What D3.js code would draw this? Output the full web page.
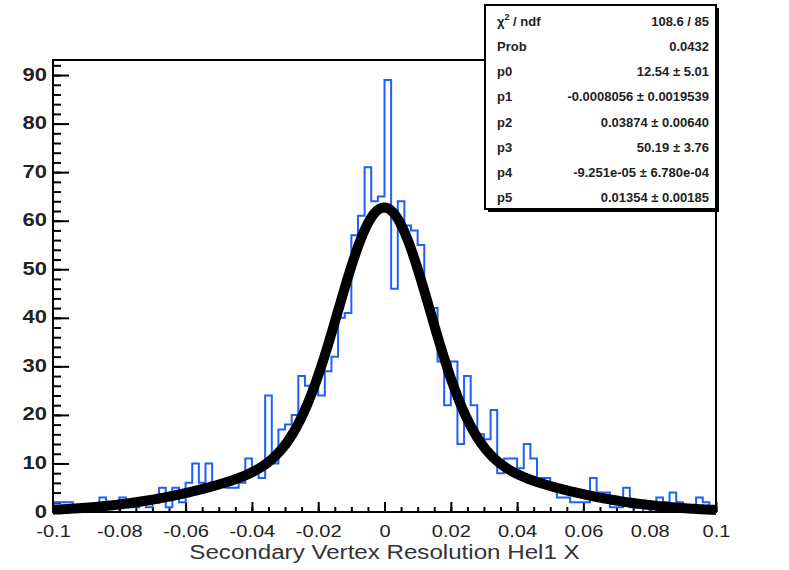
<!DOCTYPE html>
<html>
<head>
<meta charset="utf-8">
<script src="https://cdn.jsdelivr.net/npm/d3@7"></script>
<style>
    body { margin: 0; background: #fff; }
    .axis path { display: none; }
    .axis line { stroke: #000; stroke-width: 2; }
    .axis text { fill: #222; font-family: "Liberation Sans", Arial, sans-serif; }
    .stats text { font-family: "Liberation Sans", Arial, sans-serif; font-weight: bold; font-size: 13px; fill: #222; }
</style>
</head>
<body>
<div class="graph"></div>
<script>
// histogram: 100 bins from -0.1 to 0.1
var binLow = -0.1
var binWidth = 0.002
var binCounts = [
    2, 2, 2, 1, 0, 1, 1, 3, 2, 1,
    3, 1, 1, 2, 1, 2, 5, 1, 5, 2,
    6, 10, 6, 10, 5, 6, 5, 5, 6, 11,
    8, 7, 24, 10, 17, 18, 20, 28, 26, 26,
    24, 29, 32, 40, 41, 57, 61, 71, 64, 65,
    89, 46, 64, 59, 58, 55, 43, 42, 31, 22,
    31, 14, 28, 22, 16, 15, 21, 8, 11, 11,
    9, 14, 11, 7, 7, 5, 3, 3, 2, 2,
    2, 7, 4, 4, 1, 1, 5, 1, 1, 0,
    1, 3, 2, 4, 2, 1, 1, 3, 2, 1
]

// fit: p0*gaus(p1,p2) + p3*gaus(p4,p5)
var fitParams = [12.54, -0.0008056, 0.03874, 50.19, -9.251e-05, 0.01354]

var statNames = ["χ2 / ndf", "Prob", "p0", "p1", "p2", "p3", "p4", "p5"]
var statValues = ["108.6 / 85", "0.0432", "12.54 ± 5.01", "-0.0008056 ± 0.0019539",
    "0.03874 ± 0.00640", "50.19 ± 3.76", "-9.251e-05 ± 6.780e-04", "0.01354 ± 0.00185"]

var xTicks = [-0.1, -0.08, -0.06, -0.04, -0.02, 0, 0.02, 0.04, 0.06, 0.08, 0.1]
var xTickLabels = ["-0.1", "-0.08", "-0.06", "-0.04", "-0.02", "0", "0.02", "0.04", "0.06", "0.08", "0.1"]
var yTicks = [0, 10, 20, 30, 40, 50, 60, 70, 80, 90]
var xTitle = "Secondary Vertex Resolution Hel1 X"

var width = 789, height = 570
var margin = {top: 60, left: 53, right: 73, bottom: 58}
var chartWidth = width - margin.left - margin.right
var chartHeight = height - margin.top - margin.bottom

var svg = d3.select(".graph").append("svg")
    .attr("width", width).attr("height", height)

var x = d3.scaleLinear().domain([-0.1, 0.1]).range([margin.left, margin.left + chartWidth])
var y = d3.scaleLinear().domain([0, 93.1]).range([margin.top + chartHeight, margin.top])

drawAxis()
drawHist()
drawFit()
drawFrame()
drawStats()

function drawAxis() {
    var xMinor = d3.range(-0.1, 0.1001, 0.005)
    var yMinor = d3.range(0, 93, 2)

    svg.append("g").attr("class", "axis")
        .attr("transform", "translate(0," + y(0) + ")")
        .call(d3.axisBottom(x).tickValues(xMinor).tickSize(-5).tickFormat(""))

    // the labels in the original are a bit wider than the font, stretch them
    svg.append("g").attr("class", "axis x")
        .attr("transform", "translate(0," + y(0) + ")")
        .call(d3.axisBottom(x).tickValues(xTicks).tickSize(-10).tickPadding(13)
            .tickFormat(function(d, i) { return xTickLabels[i] }))
        .selectAll("text").style("font-size", "17px").attr("transform", "scale(1.18,1)")

    svg.append("g").attr("class", "axis")
        .attr("transform", "translate(" + x(-0.1) + ",0)")
        .call(d3.axisLeft(y).tickValues(yMinor).tickSize(-8).tickFormat(""))

    svg.append("g").attr("class", "axis y")
        .attr("transform", "translate(" + x(-0.1) + ",0)")
        .call(d3.axisLeft(y).tickValues(yTicks).tickSize(-16).tickPadding(5).tickFormat(d3.format("d")))
        .selectAll("text").style("font-size", "18px").style("font-weight", "bold")
        .attr("dy", "0.28em")
        .attr("transform", "scale(1.22,1)")

    svg.append("text")
        .attr("transform", "translate(" + x(0) + ",559) scale(1.15,1)")
        .attr("text-anchor", "middle")
        .style("font-family", "Liberation Sans, Arial, sans-serif")
        .style("font-size", "21px").style("fill", "#333")
        .text(xTitle)
}

function drawHist() {
    var pts = binCounts.map(function(c, i) { return [binLow + i * binWidth, c] })
    pts.push([binLow + binCounts.length * binWidth, binCounts[binCounts.length - 1]])

    var step = d3.line()
        .x(function(d) { return x(d[0]) })
        .y(function(d) { return y(d[1]) })
        .curve(d3.curveStepAfter)

    svg.append("path")
        .datum(pts)
        .attr("d", step)
        .attr("fill", "none")
        .attr("stroke", "#1f5fff")
        .attr("stroke-width", 2)
}

function fitFunc(v) {
    var p = fitParams
    var a = (v - p[1]) / p[2], b = (v - p[4]) / p[5]
    return p[0] * Math.exp(-0.5 * a * a) + p[3] * Math.exp(-0.5 * b * b)
}

function drawFit() {
    var xs = d3.range(-0.1, 0.10001, 0.0005)
    var line = d3.line()
        .x(function(d) { return x(d) })
        .y(function(d) { return y(fitFunc(d)) })

    svg.append("path")
        .datum(xs)
        .attr("d", line)
        .attr("fill", "none")
        .attr("stroke", "#000")
        .attr("stroke-width", 10)
        .attr("stroke-linejoin", "round")
}

function drawFrame() {
    svg.append("rect")
        .attr("x", x(-0.1)).attr("y", y(93.1))
        .attr("width", x(0.1) - x(-0.1)).attr("height", y(0) - y(93.1))
        .attr("fill", "none").attr("stroke", "#000").attr("stroke-width", 2)
}

function drawStats() {
    var g = svg.append("g").attr("class", "stats")
    var bx = 485, by = 5, bw = 231, bh = 204

    g.append("rect").attr("x", bx + 3).attr("y", by + 3).attr("width", bw).attr("height", bh).attr("fill", "#000")
    g.append("rect").attr("x", bx).attr("y", by).attr("width", bw).attr("height", bh)
        .attr("fill", "#fff").attr("stroke", "#000").attr("stroke-width", 2)

    var rowY = d3.scaleLinear().domain([0, 7]).range([by + 21, by + 197])

    statNames.forEach(function(name, i) {
        var t = g.append("text").attr("x", bx + 12).attr("y", rowY(i))
        if (i === 0) {
            t.append("tspan").text("χ")
            t.append("tspan").attr("dy", -6).style("font-size", "9px").text("2")
            t.append("tspan").attr("dy", 6).text(" / ndf")
        } else {
            t.text(name)
        }
        g.append("text").attr("x", bx + bw - 7).attr("y", rowY(i))
            .attr("text-anchor", "end").text(statValues[i])
    })
}
</script>
</body>
</html>
